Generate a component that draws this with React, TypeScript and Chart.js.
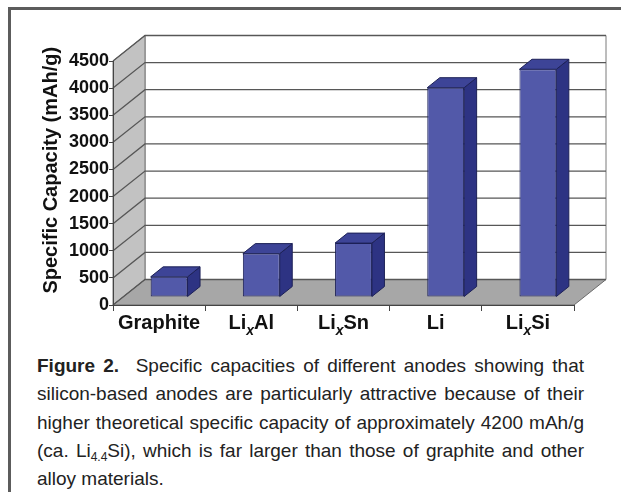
import React, { useEffect, useRef } from 'react';
import { Chart, registerables } from 'chart.js';

Chart.register(...registerables);

// ---- data ----
const categories = ['Graphite', 'Li_xAl', 'Li_xSn', 'Li', 'Li_xSi'];
const capacities = [372, 800, 994, 3860, 4200];
const yMin = 0;
const yMax = 4500;
const yStep = 500;
const yTitle = 'Specific Capacity (mAh/g)';

// ---- style constants ----
const DEPTH = { x: 32, y: -25.5 };
const BAR_OFFSET = { x: 10, y: -8 };
const BAR_DEPTH = { x: 12.5, y: -10 };
const FONT = '"Liberation Sans", Arial, Helvetica, sans-serif';
const FRONT = '#5259a9';
const TOP = '#3d4497';
const SIDE = '#2d3383';
const EDGE = '#1d2157';

function poly(ctx: CanvasRenderingContext2D, pts: number[][], fill: string, stroke?: string, lw = 1) {
  ctx.beginPath();
  ctx.moveTo(pts[0][0], pts[0][1]);
  for (let i = 1; i < pts.length; i++) ctx.lineTo(pts[i][0], pts[i][1]);
  ctx.closePath();
  ctx.fillStyle = fill;
  ctx.fill();
  if (stroke) {
    ctx.strokeStyle = stroke;
    ctx.lineWidth = lw;
    ctx.stroke();
  }
}

const threeD = {
  id: 'threeD',
  beforeDraw(chart: any) {
    const ctx: CanvasRenderingContext2D = chart.ctx;
    const xs = chart.scales.x;
    const ys = chart.scales.y;
    const L = xs.left;
    const R = xs.right;
    const y0 = ys.getPixelForValue(yMin);
    const yT = ys.getPixelForValue(yMax);
    ctx.save();
    // back wall
    ctx.beginPath();
    ctx.rect(L + DEPTH.x, yT + DEPTH.y, R - L, y0 - yT);
    ctx.fillStyle = '#ffffff';
    ctx.fill();
    ctx.strokeStyle = '#7a7a7a';
    ctx.lineWidth = 1;
    ctx.stroke();
    // side wall
    poly(ctx, [[L, y0], [L, yT], [L + DEPTH.x, yT + DEPTH.y], [L + DEPTH.x, y0 + DEPTH.y]], '#c2c2c2', '#777777');
    // floor
    poly(ctx, [[L, y0], [R, y0], [R + DEPTH.x, y0 + DEPTH.y], [L + DEPTH.x, y0 + DEPTH.y]], '#a7a7a7', '#6a6a6a');
    // gridlines on side + back walls
    ctx.strokeStyle = '#575757';
    ctx.lineWidth = 1.3;
    for (let v = yMin; v <= yMax; v += yStep) {
      const y = ys.getPixelForValue(v);
      ctx.beginPath();
      ctx.moveTo(L, y);
      ctx.lineTo(L + DEPTH.x, y + DEPTH.y);
      ctx.lineTo(R + DEPTH.x, y + DEPTH.y);
      ctx.stroke();
    }
    ctx.restore();
  },
  beforeDatasetsDraw(chart: any) {
    chart.ctx.save();
    chart.ctx.translate(BAR_OFFSET.x, BAR_OFFSET.y);
  },
  afterDatasetsDraw(chart: any) {
    const ctx: CanvasRenderingContext2D = chart.ctx;
    ctx.restore();
    const meta = chart.getDatasetMeta(0);
    ctx.save();
    meta.data.forEach((el: any) => {
      const { x, y, base, width } = el.getProps(['x', 'y', 'base', 'width'], true);
      const l = x - width / 2 + BAR_OFFSET.x;
      const r = x + width / 2 + BAR_OFFSET.x;
      const t = y + BAR_OFFSET.y;
      const b = base + BAR_OFFSET.y;
      poly(ctx, [[r, t], [r + BAR_DEPTH.x, t + BAR_DEPTH.y], [r + BAR_DEPTH.x, b + BAR_DEPTH.y], [r, b]], SIDE, EDGE);
      poly(ctx, [[l, t], [r, t], [r + BAR_DEPTH.x, t + BAR_DEPTH.y], [l + BAR_DEPTH.x, t + BAR_DEPTH.y]], TOP, EDGE);
    });
    ctx.restore();
  },
  afterDraw(chart: any) {
    const ctx: CanvasRenderingContext2D = chart.ctx;
    const xs = chart.scales.x;
    const ys = chart.scales.y;
    ctx.save();
    ctx.fillStyle = '#111111';
    ctx.textBaseline = 'alphabetic';
    const mainFont = `bold 20px ${FONT}`;
    const subFont = `italic bold 14px ${FONT}`;
    categories.forEach((cat, i) => {
      const parts = cat.split('_x');
      const segs: { text: string; font: string; dy: number }[] = [];
      parts.forEach((p, j) => {
        if (j > 0) segs.push({ text: 'x', font: subFont, dy: 6 });
        if (p) segs.push({ text: p, font: mainFont, dy: 0 });
      });
      let total = 0;
      segs.forEach((s) => {
        ctx.font = s.font;
        total += ctx.measureText(s.text).width;
      });
      let cx = xs.getPixelForValue(i) - total / 2;
      const by = xs.top + 24;
      segs.forEach((s) => {
        ctx.font = s.font;
        ctx.textAlign = 'left';
        ctx.fillText(s.text, cx, by + s.dy);
        cx += ctx.measureText(s.text).width;
      });
    });
    // y axis title, centred on the whole wall height
    const yc = (ys.getPixelForValue(yMin) + ys.getPixelForValue(yMax) + DEPTH.y) / 2;
    ctx.translate(51, yc);
    ctx.rotate(-Math.PI / 2);
    ctx.font = `bold 20px ${FONT}`;
    ctx.textAlign = 'center';
    ctx.textBaseline = 'middle';
    ctx.fillText(yTitle, 0, 0);
    ctx.restore();
  },
};

const lineStyle: React.CSSProperties = {
  width: 547,
  textAlign: 'justify',
  textAlignLast: 'justify' as any,
  whiteSpace: 'normal',
};

export default function App() {
  const ref = useRef<HTMLCanvasElement | null>(null);

  useEffect(() => {
    if (!ref.current) return;
    const chart = new Chart(ref.current, {
      type: 'bar',
      data: {
        labels: categories.map((c) => c.replace('_', '')),
        datasets: [
          {
            data: capacities,
            backgroundColor: FRONT,
            borderColor: EDGE,
            borderWidth: 1,
            borderSkipped: false,
            categoryPercentage: 1,
            barPercentage: 0.4,
          },
        ],
      },
      options: {
        animation: false,
        responsive: false,
        devicePixelRatio: 1,
        layout: { padding: { left: 26, top: 61, right: 47, bottom: 0 } },
        plugins: { legend: { display: false }, tooltip: { enabled: false } },
        scales: {
          x: {
            type: 'category',
            offset: true,
            grid: { offset: true, drawOnChartArea: false, drawTicks: true, tickLength: 6, color: '#444444' },
            border: { display: true, color: '#444444', width: 1 },
            ticks: { display: false },
            afterFit: (s: any) => {
              s.height = 35;
            },
          },
          y: {
            min: yMin,
            max: yMax,
            ticks: {
              stepSize: yStep,
              padding: 0,
              color: '#111111',
              font: { family: FONT, size: 18, weight: 'bold' },
              callback: (v: any) => String(v),
            },
            grid: { drawOnChartArea: false, drawTicks: true, tickLength: 4, color: '#444444' },
            border: { display: true, color: '#444444', width: 1 },
            afterFit: (s: any) => {
              s.width = 87;
            },
          },
        },
      },
      plugins: [threeD],
    } as any);
    return () => chart.destroy();
  }, []);

  return (
    <div style={{ position: 'fixed', inset: 0, overflow: 'hidden', background: '#ffffff' }}>
      <div
        style={{
          position: 'absolute',
          left: 8,
          top: 7,
          right: -10,
          bottom: -10,
          borderTop: '3px solid #5c5c5c',
          borderLeft: '3px solid #5c5c5c',
        }}
      />
      <canvas ref={ref} width={621} height={340} style={{ position: 'absolute', left: 0, top: 0, display: 'block' }} />
      <div
        style={{
          position: 'absolute',
          left: 37,
          top: 352,
          fontFamily: FONT,
          fontSize: 19,
          lineHeight: '28.3px',
          color: '#222222',
          whiteSpace: 'nowrap',
        }}
      >
        <div style={lineStyle}>
          <b>Figure 2.</b>&nbsp; Specific capacities of different anodes showing that
        </div>
        <div style={lineStyle}>silicon-based anodes are particularly attractive because of their</div>
        <div style={lineStyle}>higher theoretical specific capacity of approximately 4200 mAh/g</div>
        <div style={lineStyle}>
          (ca. Li<span style={{ fontSize: 12, verticalAlign: '-4px', lineHeight: 0 }}>4.4</span>Si), which is far larger
          than those of graphite and other
        </div>
        <div>alloy materials.</div>
      </div>
    </div>
  );
}
